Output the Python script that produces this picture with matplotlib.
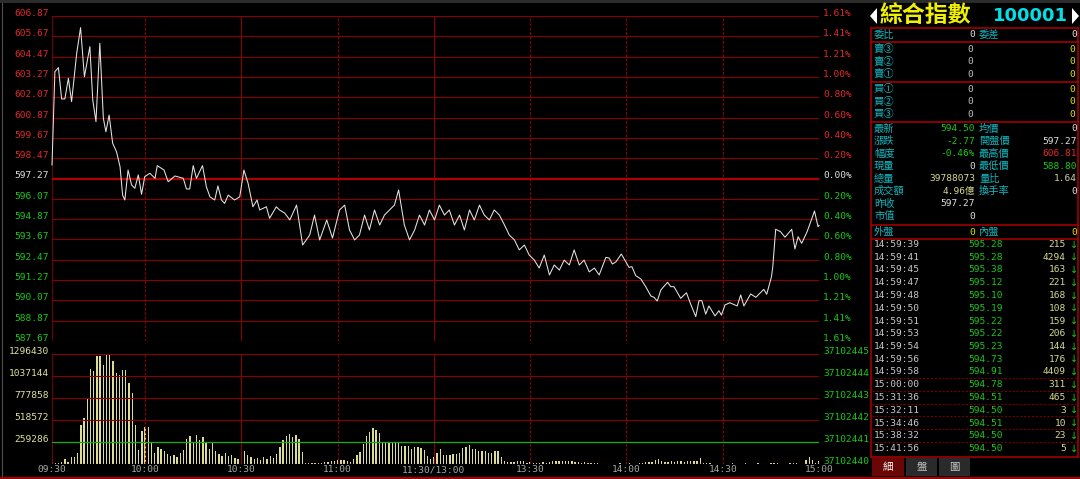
import matplotlib
matplotlib.use("Agg")
import matplotlib.pyplot as plt
import matplotlib.transforms as mtransforms
from matplotlib.patches import Rectangle, Polygon

W, H = 1080, 479

# ---- data -------------------------------------------------------------
# minute since 09:30 (afternoon session continues after 120)
t_min = [1, 1.4, 1.9, 3.0, 4.0, 5.0, 6.1, 7.1, 8.7, 9.9, 11.1, 12.8, 13.7, 14.7, 15.9,
         17.0, 17.8, 18.8, 19.9, 21.1, 22.2, 23.0, 23.7, 24.7, 25.8, 26.8, 27.9, 28.9,
         29.9, 31.5, 33.1, 33.8, 35.9, 37.2, 39.3, 41.9, 42.9, 43.9, 45.0, 46.0, 47.9,
         49.1, 50.2, 51.7, 52.7, 53.8, 54.8, 55.9, 57.9, 59.5, 60.8, 62.1, 63.6, 64.9,
         65.7, 67.8, 68.8, 70.9, 71.9, 73.5, 75.1, 77.2, 79.1, 81.3, 82.8, 84.4, 86.6,
         88.4, 90.6, 92.2, 93.7, 95.3, 96.8, 98.4, 99.9, 101.5, 103.1, 104.6, 106.2,
         107.7, 109.0, 110.8, 112.4, 114.0, 115.5, 117.1, 118.6, 120.2, 121.7, 123.3,
         124.8, 126.4, 128.0, 129.5, 131.1, 132.6, 134.2, 135.7, 137.3, 138.8, 140.4,
         142.0, 143.5, 145.1, 146.6, 148.2, 149.7, 151.3, 152.8, 154.4, 156.0, 157.5,
         159.1, 160.6, 162.2, 163.7, 165.3, 166.8, 168.4, 170.0, 171.5, 173.6, 174.6,
         175.6, 176.7, 178.4, 179.8, 180.8, 181.7, 182.9, 184.5, 186.0, 187.6, 188.6,
         189.6, 190.7, 192.8, 193.8, 194.8, 196.9, 198.7, 200.0, 201.6, 202.6, 203.5,
         204.7, 205.7, 207.6, 208.8, 209.6, 210.7, 212.2, 214.5, 215.6, 216.6, 218.7,
         220.3, 222.8, 223.7, 225.2, 225.6, 226.5, 228.0, 229.4, 231.5, 232.5, 233.5,
         234.6, 236.3, 238.6, 239.7, 240]
price = [598.07, 600.55, 603.58, 603.82, 601.97, 601.97, 603.19, 601.81, 604.67, 606.18,
         603.28, 605.06, 601.91, 600.63, 605.26, 600.83, 600.03, 601.02, 599.35, 598.85,
         597.97, 596.29, 596.00, 597.77, 596.89, 596.69, 597.48, 596.34, 597.38, 597.58,
         597.28, 598.03, 597.77, 597.08, 597.42, 597.28, 596.65, 596.65, 598.03, 597.28,
         598.03, 596.78, 596.19, 596.00, 596.83, 596.00, 595.80, 596.29, 596.00, 596.19,
         597.77, 596.99, 595.60, 596.00, 595.41, 595.60, 594.92, 595.60, 595.41, 595.23,
         594.82, 595.70, 593.34, 593.93, 595.11, 593.64, 594.82, 593.75, 595.41, 595.70,
         594.23, 593.64, 593.93, 595.11, 594.23, 595.41, 594.52, 595.11, 595.41, 595.70,
         596.59, 594.52, 593.64, 594.23, 595.11, 594.52, 595.41, 594.82, 595.70, 595.11,
         595.41, 594.52, 595.11, 594.23, 595.41, 594.82, 595.70, 595.11, 594.82, 595.41,
         595.11, 594.52, 593.93, 593.64, 593.05, 593.34, 592.75, 592.45, 591.98, 592.75,
         591.57, 592.16, 591.86, 592.45, 592.16, 593.05, 592.16, 592.45, 591.75, 591.98,
         591.57, 592.61, 592.57, 592.22, 592.34, 592.81, 592.35, 592.02, 592.06, 591.53,
         591.33, 590.88, 590.33, 590.25, 590.03, 590.68, 591.14, 590.88, 590.88, 590.19,
         590.52, 589.85, 589.11, 590.05, 590.05, 589.26, 589.74, 589.15, 589.46, 589.20,
         589.80, 589.93, 589.74, 590.39, 589.74, 590.45, 590.25, 590.72, 590.43, 591.47,
         592.06, 594.27, 594.13, 593.80, 594.27, 593.11, 593.83, 593.44, 594.13, 595.35,
         594.42, 594.50]
prev_close = 597.27

# volume per minute (thousand), minutes 1..240
vol_k = [20, 17, 17, 28, 63, 28, 79, 86, 133, 460,
         546, 762, 1116, 1100, 1273, 1273, 1167, 1285, 1285, 1214,
         1076, 1049, 1108, 1108, 951, 833, 460, 165, 393, 432,
         432, 263, 126, 204, 180, 150, 120, 95, 110, 80,
         130, 160, 300, 330, 260, 340, 280, 320, 250, 180,
         260, 150, 120, 100, 130, 90, 110, 70, 60, 90,
         150, 110, 80, 60, 70, 50, 80, 60, 90, 70,
         120, 200, 280, 330, 350, 320, 340, 300, 137, 15,
         12, 15, 12, 15, 12, 20, 25, 30, 40, 43,
         43, 43, 30, 28, 60, 106, 141, 230, 330, 380,
         420, 400, 370, 260, 263, 244, 244, 244, 244, 212,
         212, 212, 177, 197, 204, 185, 165, 98, 55, 79,
         126, 173, 106, 106, 110, 115, 120, 133, 185, 204,
         224, 177, 177, 149, 149, 157, 133, 126, 149, 149,
         86, 39, 20, 20, 20, 39, 31, 31, 8, 20,
         10, 15, 10, 20, 15, 25, 30, 39, 39, 35,
         39, 35, 30, 25, 20, 15, 20, 15, 10, 15,
         10, 0, 0, 0, 0, 0, 0, 10, 0, 0,
         10, 0, 0, 15, 15, 20, 20, 25, 47, 55,
         30, 20, 25, 30, 25, 30, 30, 25, 30, 35,
         30, 40, 67, 15, 15, 15, 0, 0, 0, 0,
         0, 0, 10, 0, 0, 0, 10, 0, 0, 0,
         10, 0, 0, 0, 10, 10, 10, 0, 0, 0,
         10, 10, 10, 0, 0, 47, 79, 47, 10, 30]
vol_min = list(range(1, 241))

price_ticks = [606.87, 605.67, 604.47, 603.27, 602.07, 600.87, 599.67, 598.47, 597.27,
               596.07, 594.87, 593.67, 592.47, 591.27, 590.07, 588.87, 587.67]
pct_labels = ["1.61%", "1.41%", "1.21%", "1.00%", "0.80%", "0.60%", "0.40%", "0.20%", "0.00%",
              "0.20%", "0.40%", "0.60%", "0.80%", "1.00%", "1.21%", "1.41%", "1.61%"]
vol_ticks = [1296430, 1037144, 777858, 518572, 259286, 0]
vol_right = ["37102445", "37102444", "37102443", "37102442", "37102441", "37102440"]
time_ticks = [1, 30, 60, 90, 120, 150, 180, 210, 240]
time_labels = ["09:30", "10:00", "10:30", "11:00", "11:30/13:00", "13:30", "14:00", "14:30", "15:00"]

title_name = "綜合指數"
title_code = "100001"

book_rows = ["賣③", "賣②", "賣①", "買①", "買②", "買③"]
book_vals = [0, 0, 0, 0, 0, 0]
book_size = [0, 0, 0, 0, 0, 0]

# label, value, kind (p = price colour, v = volume, n = neutral)
quote_left = [("最新", "594.50", "p"), ("漲跌", "-2.77", "p"), ("幅度", "-0.46%", "p"),
              ("現量", "0", "n"), ("總量", "39788073", "v"), ("成交額", "4.96億", "v"),
              ("昨收", "597.27", "n"), ("市值", "0", "n")]
quote_right = [("均價", "0", "n"), ("開盤價", "597.27", "n"), ("最高價", "606.81", "p"),
               ("最低價", "588.80", "p"), ("量比", "1.64", "v"), ("換手率", "0", "n")]

tick_time = ["14:59:39", "14:59:41", "14:59:45", "14:59:47", "14:59:48", "14:59:50",
             "14:59:51", "14:59:53", "14:59:54", "14:59:56", "14:59:58", "15:00:00",
             "15:31:36", "15:32:11", "15:34:46", "15:38:32", "15:41:56"]
tick_price = [595.28, 595.28, 595.38, 595.12, 595.10, 595.19, 595.22, 595.22, 595.23,
              594.73, 594.91, 594.78, 594.51, 594.50, 594.51, 594.50, 594.50]
tick_vol = [215, 4294, 163, 221, 168, 108, 159, 206, 144, 176, 4409, 311, 465, 3, 10, 23, 5]

tabs = ["細", "盤", "圖"]

# ---- style ------------------------------------------------------------
MONO = "DejaVu Sans Mono"
CJK = ["Noto Sans CJK TC", "DejaVu Sans"]
RED = "#e02828"
GREEN = "#18c818"
WHITE = "#e0e0e0"
YEL = "#d8d890"
CYAN = "#10b8c0"
GRID = "#8a0000"
BOX = "#a00000"


def pcol(v):
    if v > prev_close:
        return RED
    if v < prev_close:
        return GREEN
    return WHITE


fig = plt.figure(figsize=(W / 100, H / 100), dpi=100, facecolor="black")

# overlay in pixel coordinates (background + panel)
ov = fig.add_axes([0, 0, 1, 1])
ov.set_xlim(0, W)
ov.set_ylim(H, 0)
ov.axis("off")
ov.add_patch(Rectangle((0, 0), W, 3, color="#2c2c2c", lw=0))
ov.plot([1.5, 1.5], [3, 477], color="#505050", lw=0.8)
ov.plot([0, W], [478, 478], color=BOX, lw=1.6)


def fx(x):
    return x / W


def fy(y):
    return 1 - y / H


ax = fig.add_axes([fx(52), fy(341), fx(819) - fx(52), fy(16) - fy(341)])
axv = fig.add_axes([fx(52), fy(464), fx(819) - fx(52), fy(354) - fy(464)])
for a in (ax, axv):
    a.set_facecolor("none")
    a.set_xlim(1, 240)
    for s in a.spines.values():
        s.set_visible(False)
    a.set_xticks([])
    a.set_yticks([])
    a.axvline(1, color=GRID, lw=1.2)
    for m in time_ticks[1:]:
        if m in (60, 120):
            a.axvline(m, color=GRID, lw=0.8)
        else:
            a.axvline(m, color=GRID, lw=0.8, dashes=(2.5, 1.5))

ax.set_ylim(price_ticks[-1], price_ticks[0])
axv.set_ylim(0, vol_ticks[0])

for p in price_ticks:
    if p == prev_close:
        ax.axhline(p, color="#b00000", lw=1.6)
    else:
        ax.axhline(p, color=GRID, lw=0.8)
ax.plot(t_min, price, color="#e4e4e4", lw=0.75, clip_on=False)

for v in vol_ticks:
    if v == vol_ticks[4]:
        axv.axhline(v, color="#10b010", lw=0.9)
    else:
        axv.axhline(v, color=GRID, lw=0.8)
axv.bar(vol_min, [v * 1000 for v in vol_k], width=0.42, color="#dcdc94", lw=0)

# axis labels
tl = mtransforms.offset_copy(mtransforms.blended_transform_factory(fig.transFigure, ax.transData),
                             fig=fig, y=2.5, units="dots")
for p, lab in zip(price_ticks, pct_labels):
    c = pcol(round(p, 2))
    fig.text(fx(49), p, f"{p:.2f}", transform=tl, ha="right", va="center",
             color=c, family=MONO, fontsize=6.8)
    fig.text(fx(823), p, lab, transform=tl, ha="left", va="center",
             color=c, family=MONO, fontsize=6.8)

tv = mtransforms.offset_copy(mtransforms.blended_transform_factory(fig.transFigure, axv.transData),
                             fig=fig, y=2.5, units="dots")
for v, lab in zip(vol_ticks, vol_right):
    if v > 0:
        fig.text(fx(49), v, str(v), transform=tv, ha="right", va="center",
                 color="#e0e0a0", family=MONO, fontsize=6.8)
    fig.text(fx(823), v, lab, transform=tv, ha="left", va="center",
             color=GREEN, family=MONO, fontsize=6.8)

tt = mtransforms.blended_transform_factory(axv.transData, fig.transFigure)
for m, lab in zip(time_ticks, time_labels):
    fig.text(m, fy(470), lab, transform=tt, ha="center", va="center",
             color="#a8a8a8", family=MONO, fontsize=6.8)

# ---- right panel --------------------------------------------------------
ov.add_patch(Polygon([(870, 16), (877, 8), (877, 24)], color="white", lw=0))
ov.add_patch(Polygon([(1072, 8), (1079, 16), (1072, 24)], color="white", lw=0))
ov.text(880, 15, title_name, color="#f0f000", family=CJK, fontsize=16.5,
        fontweight="bold", va="center", ha="left")
ov.text(993, 16, title_code, color="#00e0e8", family="DejaVu Sans", fontsize=13,
        fontweight="bold", va="center", ha="left")

for y in (28, 42, 82, 122, 225, 239, 457):
    ov.plot([871, 1078], [y, y], color=BOX, lw=1.2)
for x in (871, 1078):
    ov.plot([x, x], [28, 457], color=BOX, lw=1.2)
for y in (378, 391, 403.5, 416, 429, 441.5):
    ov.plot([872, 1077], [y, y], color="#700000", lw=0.8, dashes=(2, 1.5))

LX, V1, L2, V2 = 874, 975, 979, 1077
FS_C, FS_N = 7.4, 6.8


def row(y, lab, val, vcol, lab2=None, val2=None, vcol2=None):
    ov.text(LX, y, lab, color=CYAN, family=CJK, fontsize=FS_C, va="center")
    ov.text(V1, y, val, color=vcol, family=[MONO] + CJK, fontsize=FS_N, va="center", ha="right")
    if lab2:
        ov.text(L2, y, lab2, color=CYAN, family=CJK, fontsize=FS_C, va="center")
    if val2 is not None:
        ov.text(V2, y, val2, color=vcol2, family=MONO, fontsize=FS_N, va="center", ha="right")


def qcol(val, kind):
    if kind == "v":
        return YEL
    if kind == "n":
        return WHITE
    if val.startswith("-"):
        return GREEN
    return pcol(float(val.rstrip("%")))


row(34.5, "委比", "0", WHITE, "委差", "0", WHITE)
book_y = [49, 61.5, 74, 89, 101.5, 114]
for y, lab, v, s in zip(book_y, book_rows, book_vals, book_size):
    ov.text(LX, y, lab, color=CYAN, family=CJK, fontsize=FS_C, va="center")
    ov.text(973, y, str(v), color="#c0c0c0", family=MONO, fontsize=FS_N, va="center", ha="right")
    ov.text(V2 - 2, y, str(s), color="#e0e000", family=MONO, fontsize=FS_N, va="center", ha="right")

for i, (lab, val, kind) in enumerate(quote_left):
    y = 128.5 + 12.55 * i
    c = qcol(val, kind)
    if i < len(quote_right):
        lab2, val2, kind2 = quote_right[i]
        c2 = "#d0d0a8" if kind2 == "v" else qcol(val2, kind2)
        row(y, lab, val, c, lab2, val2, c2)
    else:
        row(y, lab, val, c)

row(232, "外盤", "0", "#e0e000", "內盤", "0", "#e0e000")

for i, (t, p, v) in enumerate(zip(tick_time, tick_price, tick_vol)):
    y = 244.5 + 12.75 * i
    ov.text(LX, y, t, color="#c8c8c8", family=MONO, fontsize=FS_N, va="center")
    ov.text(1003, y, f"{p:.2f}", color=pcol(p), family=MONO, fontsize=FS_N, va="center", ha="right")
    ov.text(1066, y, str(v), color="#d8d890", family=MONO, fontsize=FS_N, va="center", ha="right")
    ov.text(1074, y, "↓", color=GREEN, family="DejaVu Sans", fontsize=7, va="center", ha="center")

tab_x = [(872, 904), (906, 937), (939, 970)]
for (x0, x1), lab in zip(tab_x, tabs):
    first = lab == tabs[0]
    ov.add_patch(Rectangle((x0, 458), x1 - x0, 18, color="#6a0606" if first else "#2a2a2a", lw=0))
    ov.text((x0 + x1) / 2, 467, lab, color="white" if first else "#c8c8c8", family=CJK,
            fontsize=7.5, ha="center", va="center")

fig.savefig("out.png", dpi=100, facecolor="black")
